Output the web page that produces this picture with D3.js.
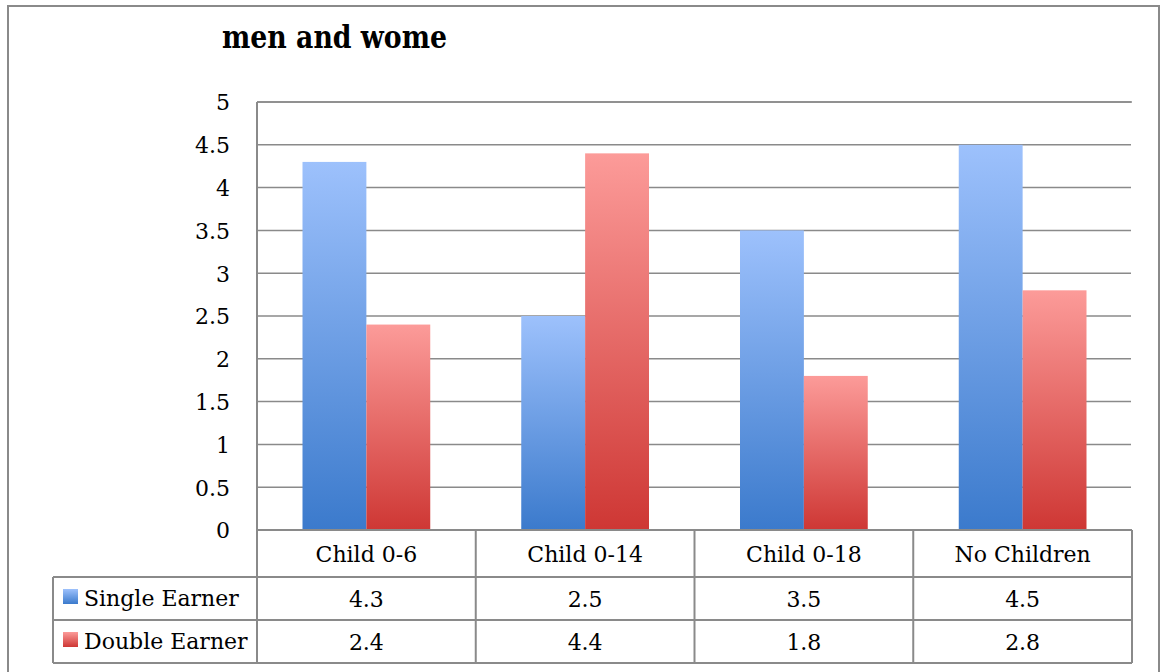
<!DOCTYPE html>
<html>
<head>
<meta charset="utf-8">
<script src="https://cdn.jsdelivr.net/npm/d3@7"></script>
<style>
  html, body { margin: 0; padding: 0; background: #fff; }
  svg { display: block; }
  text { font-family: "DejaVu Serif", "Liberation Serif", serif; fill: #000; }
</style>
</head>
<body>
<svg id="chart" width="1162" height="672"></svg>
<script>
// Chart data
const categories = ["Child 0-6", "Child 0-14", "Child 0-18", "No Children"];
const seriesNames = ["Single Earner", "Double Earner"];
const singleEarner = [4.3, 2.5, 3.5, 4.5];
const doubleEarner = [2.4, 4.4, 1.8, 2.8];
const yTicks = [0, 0.5, 1, 1.5, 2, 2.5, 3, 3.5, 4, 4.5, 5];
const titleText = "men and wome";

const seriesValues = [singleEarner, doubleEarner];
const gradients = [
  { id: "gradSingle", top: "#9dc1fc", bottom: "#3b7acc" },
  { id: "gradDouble", top: "#fc9b99", bottom: "#ce3734" }
];

const svg = d3.select("#chart");
const lineColor = "#8a8a8a";
const fontSize = 22;

// Outer frame
svg.append("rect")
  .attr("x", 8).attr("y", 6).attr("width", 1151).attr("height", 700)
  .attr("fill", "none").attr("stroke", lineColor).attr("stroke-width", 2);

// Gradients for bars and legend swatches
const defs = svg.append("defs");
gradients.forEach(g => {
  const lg = defs.append("linearGradient").attr("id", g.id)
    .attr("x1", 0).attr("y1", 0).attr("x2", 0).attr("y2", 1);
  lg.append("stop").attr("offset", "0%").attr("stop-color", g.top);
  lg.append("stop").attr("offset", "100%").attr("stop-color", g.bottom);
});

// Plot geometry
const plotLeft = 257, plotRight = 1132, plotTop = 102, plotBottom = 530;
const rowYs = [530, 577, 620, 663];
const legendLeft = 53;

const y = d3.scaleLinear().domain([0, 5]).range([plotBottom, plotTop]);
const x = d3.scaleBand().domain(categories).range([plotLeft, plotRight]).padding(0);
const step = x.bandwidth();
const gap = step * 0.208;
const xs = d3.scaleBand().domain(seriesNames).range([gap, step - gap]).padding(0);

// Gridlines
svg.append("g").selectAll("line")
  .data(yTicks.filter(t => t > 0))
  .join("line")
  .attr("x1", plotLeft).attr("x2", plotRight - 1)
  .attr("y1", d => y(d)).attr("y2", d => y(d))
  .attr("stroke", lineColor).attr("stroke-width", 1.5);

// Y axis tick labels
const yAxis = d3.axisLeft(y).tickValues(yTicks).tickSize(0).tickPadding(0)
  .tickFormat(d3.format("~g"));
const yg = svg.append("g").attr("transform", `translate(230,0)`).call(yAxis);
yg.select(".domain").remove();
yg.selectAll("text")
  .attr("font-family", "DejaVu Serif, serif")
  .attr("font-size", fontSize)
  .attr("fill", "#000")
  .attr("dy", "0.36em");

// Bars
const barGroups = svg.append("g").selectAll("g")
  .data(categories)
  .join("g")
  .attr("transform", d => `translate(${x(d)},0)`);

barGroups.selectAll("rect")
  .data((c, i) => seriesNames.map((s, j) => ({ s, j, v: seriesValues[j][i] })))
  .join("rect")
  .attr("x", d => xs(d.s))
  .attr("width", xs.bandwidth())
  .attr("y", d => y(d.v))
  .attr("height", d => y(0) - y(d.v))
  .attr("fill", d => `url(#${gradients[d.j].id})`);

// Data table lines
const tbl = svg.append("g").attr("stroke", lineColor).attr("stroke-width", 2);
tbl.append("line").attr("x1", plotLeft).attr("x2", plotLeft).attr("y1", plotTop).attr("y2", rowYs[3]);
tbl.append("line").attr("x1", plotLeft).attr("x2", plotRight).attr("y1", plotTop).attr("y2", plotTop)
  .attr("stroke-width", 1.5);
tbl.append("line").attr("x1", plotLeft).attr("x2", plotRight).attr("y1", rowYs[0]).attr("y2", rowYs[0]);
[rowYs[1], rowYs[2], rowYs[3]].forEach(ry => {
  tbl.append("line").attr("x1", legendLeft).attr("x2", plotRight).attr("y1", ry).attr("y2", ry);
});
tbl.append("line").attr("x1", legendLeft).attr("x2", legendLeft).attr("y1", rowYs[1]).attr("y2", rowYs[3]);
categories.forEach(c => {
  const xr = x(c) + step;
  tbl.append("line").attr("x1", xr).attr("x2", xr).attr("y1", rowYs[0]).attr("y2", rowYs[3]);
});

// Category labels
svg.append("g").selectAll("text")
  .data(categories)
  .join("text")
  .attr("x", d => x(d) + step / 2)
  .attr("y", 562)
  .attr("text-anchor", "middle")
  .attr("font-size", fontSize)
  .text(d => d);

// Value rows
const rowBaselines = [607, 650];
seriesNames.forEach((s, j) => {
  svg.append("g").selectAll("text")
    .data(seriesValues[j])
    .join("text")
    .attr("x", (d, i) => x(categories[i]) + step / 2)
    .attr("y", rowBaselines[j])
    .attr("text-anchor", "middle")
    .attr("font-size", fontSize)
    .text(d => d3.format(".1f")(d));

  // Legend swatch and name
  svg.append("rect")
    .attr("x", 63).attr("y", rowBaselines[j] - 18)
    .attr("width", 15).attr("height", 15)
    .attr("fill", `url(#${gradients[j].id})`);
  svg.append("text")
    .attr("x", 84).attr("y", rowBaselines[j] - 1)
    .attr("font-size", fontSize)
    .text(s);
});

// Title
svg.append("text")
  .attr("x", 222).attr("y", 48)
  .attr("font-size", 32)
  .attr("font-weight", "bold")
  .attr("textLength", 225)
  .attr("lengthAdjust", "spacingAndGlyphs")
  .text(titleText);
</script>
</body>
</html>
